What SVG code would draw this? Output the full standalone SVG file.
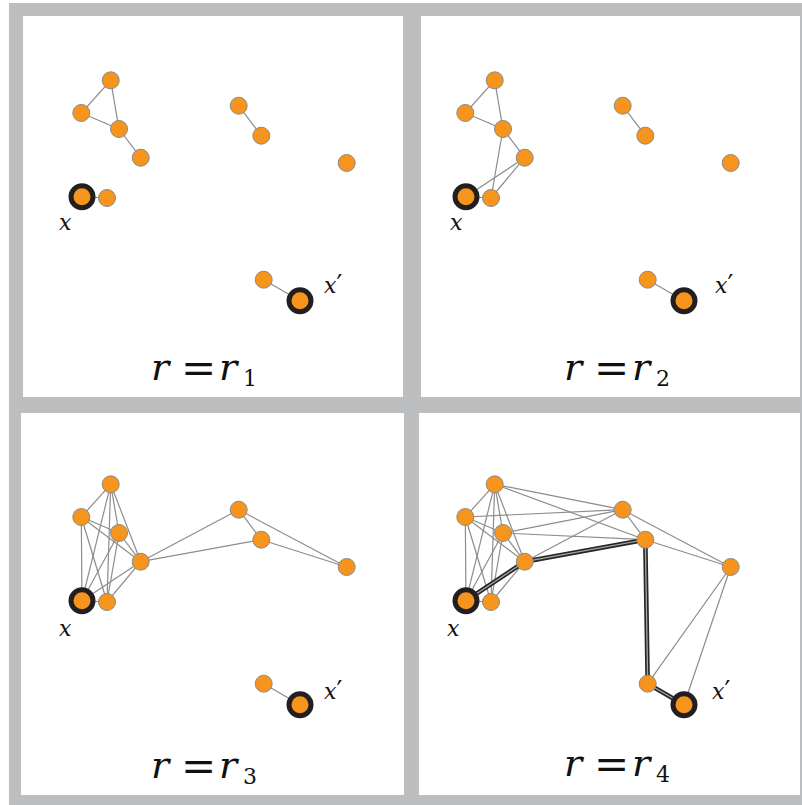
<svg xmlns="http://www.w3.org/2000/svg" width="802" height="805" viewBox="0 0 802 805">
<style>
.bg{fill:#bcbec0}
.panel{fill:#ffffff}
.e{stroke:#8c8c8c;stroke-width:1.2;fill:none}
.t1{stroke:#262626;stroke-width:4.6;fill:none}
.t2{stroke:#a8a8a8;stroke-width:1.3;fill:none}
.n{fill:#f7941d;stroke:#8a8a8a;stroke-width:1}
.h{fill:#f7941d;stroke:#231f20;stroke-width:5}
text{fill:#111;font-family:"DejaVu Serif",serif}
.lbl{font-style:italic;font-size:22px}
.pr{font-style:normal;font-size:26px}
.r{font-style:italic;font-size:38px}
.eqs{font-size:42px}
.sub{font-size:22px}
</style>
<rect class="bg" x="9" y="3" width="793" height="802"/>
<rect class="panel" x="23" y="16" width="380" height="381"/>
<rect class="panel" x="421" y="16" width="379" height="381"/>
<rect class="panel" x="21" y="413" width="383" height="382"/>
<rect class="panel" x="419" y="413" width="381" height="382"/>

<!-- Panel 1 -->
<g id="panel1">
<g id="p1-edges">
<line class="e" x1="110.7" y1="80.3" x2="81.3" y2="113"/>
<line class="e" x1="110.7" y1="80.3" x2="119" y2="129"/>
<line class="e" x1="81.3" y1="113" x2="119" y2="129"/>
<line class="e" x1="119" y1="129" x2="140.7" y2="157.7"/>
<line class="e" x1="82" y1="196.7" x2="107" y2="198"/>
<line class="e" x1="238.7" y1="105.7" x2="261.3" y2="135.7"/>
<line class="e" x1="263.7" y1="279.7" x2="300" y2="300.7"/>
</g>
<g id="p1-a"><circle class="n" cx="110.7" cy="80.3" r="8.5"/></g>
<g id="p1-b"><circle class="n" cx="81.3" cy="113" r="8.5"/></g>
<g id="p1-c"><circle class="n" cx="119" cy="129" r="8.5"/></g>
<g id="p1-d"><circle class="n" cx="140.7" cy="157.7" r="8.5"/></g>
<g id="p1-e"><circle class="n" cx="107" cy="198" r="8.5"/></g>
<g id="p1-f"><circle class="n" cx="238.7" cy="105.7" r="8.5"/></g>
<g id="p1-g"><circle class="n" cx="261.3" cy="135.7" r="8.5"/></g>
<g id="p1-h"><circle class="n" cx="346.7" cy="163" r="8.5"/></g>
<g id="p1-i"><circle class="n" cx="263.7" cy="279.7" r="8.5"/></g>
<g id="p1-x"><circle class="h" cx="82" cy="196.7" r="11"/></g>
<g id="p1-xp"><circle class="h" cx="300" cy="300.7" r="11"/></g>
<text class="lbl" x="59" y="230">x</text>
<text class="lbl" x="324" y="293">x<tspan class="pr">′</tspan></text>
<text class="r" x="151" y="380">r</text>
<text class="eqs" x="181" y="383">=</text>
<text class="r" x="219" y="380">r</text>
<text class="sub" x="243" y="386">1</text>
</g>

<!-- Panel 2 -->
<g id="panel2">
<g id="p2-edges" transform="translate(384,0)">
<line class="e" x1="110.7" y1="80.3" x2="81.3" y2="113"/>
<line class="e" x1="110.7" y1="80.3" x2="119" y2="129"/>
<line class="e" x1="81.3" y1="113" x2="119" y2="129"/>
<line class="e" x1="119" y1="129" x2="140.7" y2="157.7"/>
<line class="e" x1="119" y1="129" x2="107" y2="198"/>
<line class="e" x1="140.7" y1="157.7" x2="82" y2="196.7"/>
<line class="e" x1="140.7" y1="157.7" x2="107" y2="198"/>
<line class="e" x1="82" y1="196.7" x2="107" y2="198"/>
<line class="e" x1="238.7" y1="105.7" x2="261.3" y2="135.7"/>
<line class="e" x1="263.7" y1="279.7" x2="300" y2="300.7"/>
</g>
<g transform="translate(384,0)">
<g id="p2-a"><circle class="n" cx="110.7" cy="80.3" r="8.5"/></g>
<g id="p2-b"><circle class="n" cx="81.3" cy="113" r="8.5"/></g>
<g id="p2-c"><circle class="n" cx="119" cy="129" r="8.5"/></g>
<g id="p2-d"><circle class="n" cx="140.7" cy="157.7" r="8.5"/></g>
<g id="p2-e"><circle class="n" cx="107" cy="198" r="8.5"/></g>
<g id="p2-f"><circle class="n" cx="238.7" cy="105.7" r="8.5"/></g>
<g id="p2-g"><circle class="n" cx="261.3" cy="135.7" r="8.5"/></g>
<g id="p2-h"><circle class="n" cx="346.7" cy="163" r="8.5"/></g>
<g id="p2-i"><circle class="n" cx="263.7" cy="279.7" r="8.5"/></g>
<g id="p2-x"><circle class="h" cx="82" cy="196.7" r="11"/></g>
<g id="p2-xp"><circle class="h" cx="300" cy="300.7" r="11"/></g>
</g>
<text class="lbl" x="450" y="230">x</text>
<text class="lbl" x="715" y="293">x<tspan class="pr">′</tspan></text>
<text class="r" x="564" y="380">r</text>
<text class="eqs" x="594" y="383">=</text>
<text class="r" x="632" y="380">r</text>
<text class="sub" x="656" y="386">2</text>
</g>

<!-- Panel 3 -->
<g id="panel3">
<g id="p3-edges" transform="translate(0,404)">
<line class="e" x1="110.7" y1="80.3" x2="81.3" y2="113"/>
<line class="e" x1="110.7" y1="80.3" x2="119" y2="129"/>
<line class="e" x1="110.7" y1="80.3" x2="140.7" y2="157.7"/>
<line class="e" x1="110.7" y1="80.3" x2="82" y2="196.7"/>
<line class="e" x1="110.7" y1="80.3" x2="107" y2="198"/>
<line class="e" x1="81.3" y1="113" x2="119" y2="129"/>
<line class="e" x1="81.3" y1="113" x2="140.7" y2="157.7"/>
<line class="e" x1="81.3" y1="113" x2="82" y2="196.7"/>
<line class="e" x1="81.3" y1="113" x2="107" y2="198"/>
<line class="e" x1="119" y1="129" x2="140.7" y2="157.7"/>
<line class="e" x1="119" y1="129" x2="82" y2="196.7"/>
<line class="e" x1="119" y1="129" x2="107" y2="198"/>
<line class="e" x1="140.7" y1="157.7" x2="82" y2="196.7"/>
<line class="e" x1="140.7" y1="157.7" x2="107" y2="198"/>
<line class="e" x1="82" y1="196.7" x2="107" y2="198"/>
<line class="e" x1="140.7" y1="157.7" x2="238.7" y2="105.7"/>
<line class="e" x1="140.7" y1="157.7" x2="261.3" y2="135.7"/>
<line class="e" x1="238.7" y1="105.7" x2="261.3" y2="135.7"/>
<line class="e" x1="238.7" y1="105.7" x2="346.7" y2="163"/>
<line class="e" x1="261.3" y1="135.7" x2="346.7" y2="163"/>
<line class="e" x1="263.7" y1="279.7" x2="300" y2="300.7"/>
</g>
<g transform="translate(0,404)">
<g id="p3-a"><circle class="n" cx="110.7" cy="80.3" r="8.5"/></g>
<g id="p3-b"><circle class="n" cx="81.3" cy="113" r="8.5"/></g>
<g id="p3-c"><circle class="n" cx="119" cy="129" r="8.5"/></g>
<g id="p3-d"><circle class="n" cx="140.7" cy="157.7" r="8.5"/></g>
<g id="p3-e"><circle class="n" cx="107" cy="198" r="8.5"/></g>
<g id="p3-f"><circle class="n" cx="238.7" cy="105.7" r="8.5"/></g>
<g id="p3-g"><circle class="n" cx="261.3" cy="135.7" r="8.5"/></g>
<g id="p3-h"><circle class="n" cx="346.7" cy="163" r="8.5"/></g>
<g id="p3-i"><circle class="n" cx="263.7" cy="279.7" r="8.5"/></g>
<g id="p3-x"><circle class="h" cx="82" cy="196.7" r="11"/></g>
<g id="p3-xp"><circle class="h" cx="300" cy="300.7" r="11"/></g>
</g>
<text class="lbl" x="59" y="636">x</text>
<text class="lbl" x="324" y="699">x<tspan class="pr">′</tspan></text>
<text class="r" x="151" y="778">r</text>
<text class="eqs" x="181" y="781">=</text>
<text class="r" x="219" y="778">r</text>
<text class="sub" x="243" y="784">3</text>
</g>

<!-- Panel 4 -->
<g id="panel4">
<g id="p4-edges" transform="translate(384,404)">
<line class="e" x1="110.7" y1="80.3" x2="81.3" y2="113"/>
<line class="e" x1="110.7" y1="80.3" x2="119" y2="129"/>
<line class="e" x1="110.7" y1="80.3" x2="140.7" y2="157.7"/>
<line class="e" x1="110.7" y1="80.3" x2="82" y2="196.7"/>
<line class="e" x1="110.7" y1="80.3" x2="107" y2="198"/>
<line class="e" x1="81.3" y1="113" x2="119" y2="129"/>
<line class="e" x1="81.3" y1="113" x2="140.7" y2="157.7"/>
<line class="e" x1="81.3" y1="113" x2="82" y2="196.7"/>
<line class="e" x1="81.3" y1="113" x2="107" y2="198"/>
<line class="e" x1="119" y1="129" x2="140.7" y2="157.7"/>
<line class="e" x1="119" y1="129" x2="82" y2="196.7"/>
<line class="e" x1="119" y1="129" x2="107" y2="198"/>
<line class="e" x1="140.7" y1="157.7" x2="107" y2="198"/>
<line class="e" x1="82" y1="196.7" x2="107" y2="198"/>
<line class="e" x1="110.7" y1="80.3" x2="238.7" y2="105.7"/>
<line class="e" x1="110.7" y1="80.3" x2="261.3" y2="135.7"/>
<line class="e" x1="81.3" y1="113" x2="238.7" y2="105.7"/>
<line class="e" x1="119" y1="129" x2="238.7" y2="105.7"/>
<line class="e" x1="119" y1="129" x2="261.3" y2="135.7"/>
<line class="e" x1="140.7" y1="157.7" x2="238.7" y2="105.7"/>
<line class="e" x1="238.7" y1="105.7" x2="261.3" y2="135.7"/>
<line class="e" x1="238.7" y1="105.7" x2="346.7" y2="163"/>
<line class="e" x1="261.3" y1="135.7" x2="346.7" y2="163"/>
<line class="e" x1="346.7" y1="163" x2="263.7" y2="279.7"/>
<line class="e" x1="346.7" y1="163" x2="300" y2="300.7"/>
<g id="p4-path">
<polyline class="t1" points="82,196.7 140.7,157.7 261.3,135.7 263.7,279.7 300,300.7"/>
<polyline class="t2" points="82,196.7 140.7,157.7 261.3,135.7 263.7,279.7 300,300.7"/>
</g>
</g>
<g transform="translate(384,404)">
<g id="p4-a"><circle class="n" cx="110.7" cy="80.3" r="8.5"/></g>
<g id="p4-b"><circle class="n" cx="81.3" cy="113" r="8.5"/></g>
<g id="p4-c"><circle class="n" cx="119" cy="129" r="8.5"/></g>
<g id="p4-d"><circle class="n" cx="140.7" cy="157.7" r="8.5"/></g>
<g id="p4-e"><circle class="n" cx="107" cy="198" r="8.5"/></g>
<g id="p4-f"><circle class="n" cx="238.7" cy="105.7" r="8.5"/></g>
<g id="p4-g"><circle class="n" cx="261.3" cy="135.7" r="8.5"/></g>
<g id="p4-h"><circle class="n" cx="346.7" cy="163" r="8.5"/></g>
<g id="p4-i"><circle class="n" cx="263.7" cy="279.7" r="8.5"/></g>
<g id="p4-x"><circle class="h" cx="82" cy="196.7" r="11"/></g>
<g id="p4-xp"><circle class="h" cx="300" cy="300.7" r="11"/></g>
</g>
<text class="lbl" x="447" y="636">x</text>
<text class="lbl" x="712" y="699">x<tspan class="pr">′</tspan></text>
<text class="r" x="564" y="776">r</text>
<text class="eqs" x="594" y="779">=</text>
<text class="r" x="632" y="776">r</text>
<text class="sub" x="656" y="782">4</text>
</g>
</svg>
